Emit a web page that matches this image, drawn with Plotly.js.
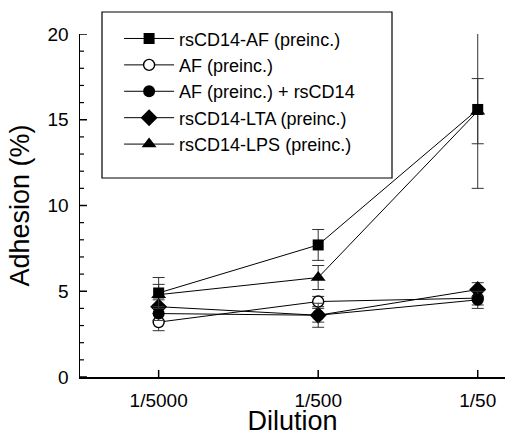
<!DOCTYPE html>
<html>
<head>
<meta charset="utf-8">
<script src="https://cdn.plot.ly/plotly-3.0.1.min.js"></script>
<style>html,body{margin:0;padding:0;background:#fff;}#chart{width:505px;height:436px;}</style>
</head>
<body>
<div id="chart"></div>
<script>
var categories = ['1/5000', '1/500', '1/50'];
var xIndex = [0, 1, 2];

var rsCD14_AF = [4.9, 7.7, 15.6];
var rsCD14_AF_err = [0.9, 0.9, 4.6];
var AF = [3.2, 4.4, 4.6];
var AF_err = [0.5, 0.3, 0.4];
var AF_rsCD14 = [3.7, 3.6, 4.5];
var AF_rsCD14_err = [0.4, 0.7, 0.5];
var rsCD14_LTA = [4.1, 3.6, 5.1];
var rsCD14_LTA_err = [0.4, 0.4, 0.4];
var rsCD14_LPS = [4.8, 5.8, 15.5];
var rsCD14_LPS_err = [0.6, 0.7, 1.9];

var yMajorTicks = [0, 5, 10, 15, 20];
var yMinorTicks = [1, 2, 3, 4, 6, 7, 8, 9, 11, 12, 13, 14, 16, 17, 18, 19];

var seriesNames = ['rsCD14-AF (preinc.)', 'AF (preinc.)', 'AF (preinc.) + rsCD14', 'rsCD14-LTA (preinc.)', 'rsCD14-LPS (preinc.)'];

function mk(name, y, err, symbol, size, rank, open) {
  return {
    type: 'scatter', mode: 'lines+markers', name: name,
    x: xIndex, y: y, legendrank: rank, legendgroup: 'g' + rank,
    line: {color: '#000', width: 1},
    marker: {symbol: symbol, size: size, color: open ? '#fff' : '#000',
             line: {color: '#000', width: open ? 1.4 : 0}},
    error_y: {type: 'data', array: err, visible: true, color: '#333', thickness: 1, width: 6},
    cliponaxis: false
  };
}

var data = [
  mk(seriesNames[4], rsCD14_LPS, rsCD14_LPS_err, 'triangle-up', 13, 5, false),
  mk(seriesNames[1], AF, AF_err, 'circle', 11, 2, true),
  mk(seriesNames[3], rsCD14_LTA, rsCD14_LTA_err, 'diamond', 13, 4, false),
  mk(seriesNames[2], AF_rsCD14, AF_rsCD14_err, 'circle', 12, 3, false),
  mk(seriesNames[0], rsCD14_AF, rsCD14_AF_err, 'square', 11, 1, false)
];

var font = 'Liberation Sans, Arial, Helvetica, sans-serif';
var xRange = [-0.493, 2.171];
var yRange = [0, 20];
var plotW = 425, plotH = 343;

// inward tick marks drawn as shapes (paper offset from axis line)
var shapes = [{
  type: 'rect', xref: 'paper', yref: 'paper',
  x0: (102 - 80) / plotW, x1: (392 - 80) / plotW,
  y0: (377 - 178) / plotH, y1: (377 - 12) / plotH,
  line: {color: '#000', width: 1.2}, fillcolor: 'rgba(0,0,0,0)', layer: 'below'
}];
yMajorTicks.forEach(function (v) {
  shapes.push({type: 'line', xref: 'paper', yref: 'y', x0: 0, x1: 7 / plotW, y0: v, y1: v,
    line: {color: '#000', width: 1.5}, layer: 'above'});
});
yMinorTicks.forEach(function (v) {
  shapes.push({type: 'line', xref: 'paper', yref: 'y', x0: 0, x1: 4 / plotW, y0: v, y1: v,
    line: {color: '#000', width: 1.2}, layer: 'above'});
});
xIndex.forEach(function (v) {
  shapes.push({type: 'line', xref: 'x', yref: 'paper', x0: v, x1: v, y0: 0, y1: 7 / plotH,
    line: {color: '#000', width: 1.5}, layer: 'above'});
});

var layout = {
  width: 505, height: 436,
  margin: {l: 80, r: 0, t: 34, b: 59, pad: 0},
  paper_bgcolor: '#fff', plot_bgcolor: '#fff',
  font: {family: font, color: '#000'},
  showlegend: true,
  legend: {
    x: 0.092, y: 1.040, xanchor: 'left', yanchor: 'top',
    bgcolor: 'rgba(0,0,0,0)', borderwidth: 0,
    font: {family: font, size: 18, color: '#000'},
    itemwidth: 50, tracegroupgap: 0, traceorder: 'normal'
  },
  xaxis: {
    range: xRange, tickmode: 'array', tickvals: xIndex, ticktext: categories,
    showgrid: false, zeroline: false, showline: true, linecolor: '#000', linewidth: 1.5,
    ticks: '', ticklabelstandoff: 6,
    tickfont: {family: font, size: 19, color: '#000'},
    title: {text: 'Dilution', font: {family: font, size: 27, color: '#000'}, standoff: 9}
  },
  yaxis: {
    range: yRange, tickmode: 'array', tickvals: yMajorTicks,
    showgrid: false, zeroline: false, showline: true, linecolor: '#000', linewidth: 1.5,
    ticks: '', ticklabelstandoff: 6,
    tickfont: {family: font, size: 19, color: '#000'},
    title: {text: 'Adhesion (%)', font: {family: font, size: 27, color: '#000'}, standoff: 10}
  },
  shapes: shapes
};

Plotly.newPlot('chart', data, layout, {displayModeBar: false, staticPlot: true});
</script>
</body>
</html>
